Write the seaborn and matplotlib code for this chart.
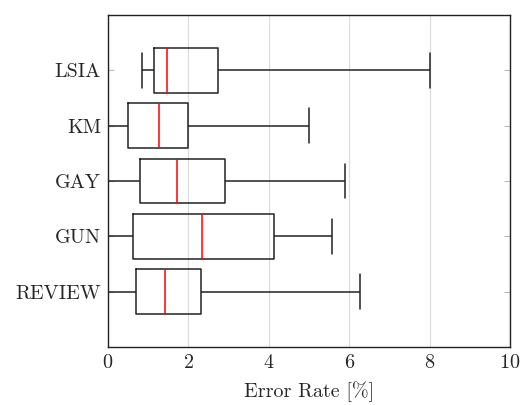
import matplotlib
matplotlib.use("Agg")
import matplotlib.pyplot as plt
import pandas as pd
import seaborn as sns

# five-number summaries (min, q1, median, q3, max)
methods = ["LSIA", "KM", "GAY", "GUN", "REVIEW"]
lsia = [0.84, 1.15, 1.48, 2.74, 8.0]
km = [0.0, 0.50, 1.26, 2.00, 5.0]
gay = [0.0, 0.80, 1.71, 2.91, 5.89]
gun = [0.0, 0.61, 2.33, 4.13, 5.56]
review = [0.0, 0.70, 1.41, 2.31, 6.26]
x_ticks = [0, 2, 4, 6, 8, 10]

rows = []
for name, vals in zip(methods, [lsia, km, gay, gun, review]):
    for v in vals:
        rows.append({"method": name, "error": v})
df = pd.DataFrame(rows)

sns.set_style("white")
plt.rcParams["font.family"] = ["cmr10", "DejaVu Serif"]
plt.rcParams["axes.formatter.use_mathtext"] = True

fig = plt.figure(figsize=(5.21, 4.05), dpi=100)
ax = fig.add_axes([108 / 521, 1 - 347 / 405, (510 - 108) / 521, (347 - 15) / 405])

sns.boxplot(
    data=df,
    x="error",
    y="method",
    order=methods,
    orient="h",
    whis=(0, 100),
    width=0.81,
    fill=False,
    color="#222222",
    linewidth=1.1,
    medianprops={"color": "red", "linewidth": 1.1},
    capwidths=0.63,
    ax=ax,
)

ax.set_xlim(0, 10)
ax.set_ylim(5.0, -1.0)
ax.set_xticks(x_ticks)
ax.xaxis.grid(True, color="#dddddd", linewidth=0.9)
ax.set_axisbelow(True)
ax.set_xlabel("Error Rate [%]", fontsize=14.5, labelpad=7)
ax.set_ylabel("")
ax.tick_params(axis="both", labelsize=14.5, direction="in", length=4,
               color="#bbbbbb", top=False, right=True, left=True, pad=5)
for s in ax.spines.values():
    s.set_visible(True)
    s.set_color("#222222")
    s.set_linewidth(1.0)

fig.savefig("out.png", dpi=100)
